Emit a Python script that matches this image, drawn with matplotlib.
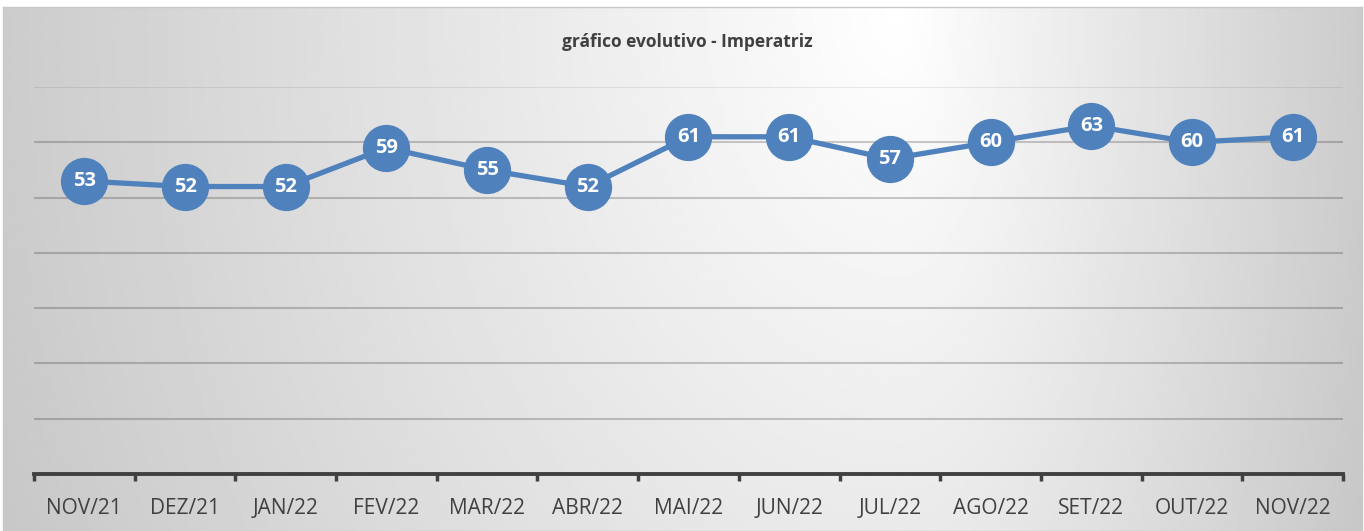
import numpy as np
import matplotlib.pyplot as plt

months = ['NOV/21', 'DEZ/21', 'JAN/22', 'FEV/22', 'MAR/22', 'ABR/22', 'MAI/22',
          'JUN/22', 'JUL/22', 'AGO/22', 'SET/22', 'OUT/22', 'NOV/22']
values = [53, 52, 52, 59, 55, 52, 61, 61, 57, 60, 63, 60, 61]

blue = '#4F81BD'
plt.rcParams['font.family'] = ['Open Sans', 'DejaVu Sans']

fig = plt.figure(figsize=(13.64, 5.31), dpi=100)

# gradient background of the chart area
bg = fig.add_axes([0.0022, 0.0, 0.9963, 0.9868])
yy, xx = np.mgrid[0:1:200j, 0:1:400j]
cx = 0.66
sx = np.where(xx < cx, cx, 1 - cx) * 1.05
d = np.sqrt(((xx - cx) / sx) ** 2 + (yy * 0.4) ** 2)
shade = 1.0 - 0.21 * np.clip(d, 0, 1.1)
bg.imshow(shade, cmap='gray', vmin=0, vmax=1, aspect='auto', extent=(0, 1, 1, 0))
bg.set_xticks([])
bg.set_yticks([])
for s in bg.spines.values():
    s.set_color('#c8c8c8')
    s.set_linewidth(1.0)

ax = fig.add_axes([0.0249, 0.1073, 0.9597, 0.7288])
ax.patch.set_alpha(0)
x = np.arange(len(months))
ax.plot(x, values, color=blue, lw=3.8, marker='o', ms=33, mfc=blue, mec=blue, zorder=3)
for xi, v in zip(x, values):
    ax.text(xi, v, str(v), ha='center', va='center', color='white',
            fontsize=14.5, fontweight='bold', zorder=4)

ax.set_xlim(-0.5, len(months) - 0.5)
ax.set_ylim(0, 70)
for gy in range(10, 70, 10):
    ax.axhline(gy, color='black', alpha=0.2, lw=1.5, zorder=1)
ax.axhline(70, color='black', alpha=0.08, lw=1.5, zorder=1)
ax.set_yticks([])
ax.set_xticks(x)
ax.set_xticklabels(months, fontsize=15, color='#404040')
ax.set_xticks(np.arange(-0.5, len(months)), minor=True)
ax.tick_params(axis='x', which='major', length=0, pad=17)
ax.tick_params(axis='x', which='minor', length=5, width=2.5, color='#404040', direction='out')
for side in ['top', 'left', 'right']:
    ax.spines[side].set_visible(False)
ax.spines['bottom'].set_color('#404040')
ax.spines['bottom'].set_linewidth(2.8)

fig.text(0.504, 0.921, 'gráfico evolutivo - Imperatriz', ha='center', va='center',
         fontsize=12.5, fontweight='bold', color='#404040')

fig.savefig('out.png', dpi=100)
